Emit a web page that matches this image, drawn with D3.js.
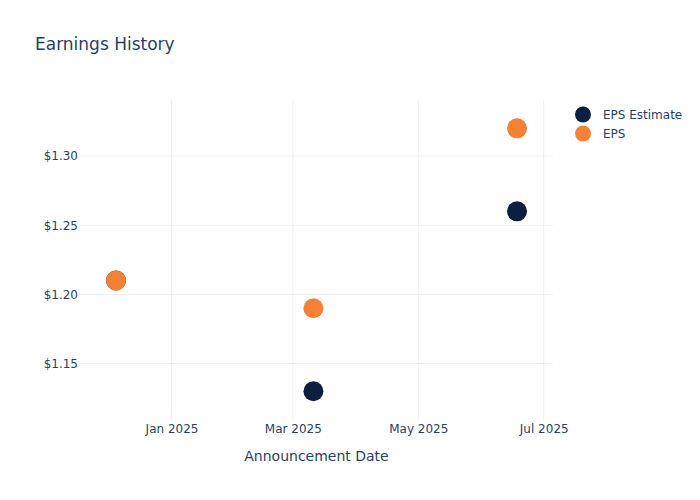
<!DOCTYPE html>
<html><head><meta charset="utf-8">
<script src="https://cdn.jsdelivr.net/npm/d3@7"></script>
<style>body{margin:0;background:#fff;} text{font-family:"DejaVu Sans",sans-serif;}</style>
</head><body>
<div id="chart"></div>
<script>
const dates = ["2024-12-05", "2025-03-11", "2025-06-18"];
const epsEstimate = [1.21, 1.13, 1.26];
const eps = [1.21, 1.19, 1.32];
const seriesNames = ["EPS Estimate", "EPS"];
const yTicks = [1.15, 1.20, 1.25, 1.30];
const xTicks = ["2025-01-01", "2025-03-01", "2025-05-01", "2025-07-01"];

const W = 700, H = 500;
const m = {l: 80, r: 147, t: 100, b: 80};
const parse = d3.utcParse("%Y-%m-%d");
const svg = d3.select("#chart").append("svg").attr("width", W).attr("height", H);

const x = d3.scaleUtc()
  .domain([new Date(Date.UTC(2024, 10, 17, 12)), new Date(Date.UTC(2025, 6, 5, 12))])
  .range([m.l, W - m.r]);
const y = d3.scaleLinear().domain([1.1092, 1.3405]).range([H - m.b, m.t]);

const grid = svg.append("g");
grid.selectAll(".gx").data(xTicks).join("line")
  .attr("x1", d => x(parse(d))).attr("x2", d => x(parse(d)))
  .attr("y1", m.t).attr("y2", H - m.b)
  .attr("stroke", "#ebf0f8").attr("stroke-width", 1);
grid.selectAll(".gy").data(yTicks).join("line")
  .attr("x1", m.l).attr("x2", W - m.r)
  .attr("y1", d => y(d)).attr("y2", d => y(d))
  .attr("stroke", "#ebf0f8").attr("stroke-width", 1);

const xAxis = d3.axisBottom(x).tickValues(xTicks.map(parse))
  .tickFormat(d3.utcFormat("%b %Y")).tickSize(0).tickPadding(4);
svg.append("g").attr("transform", `translate(0,${H - m.b})`).call(xAxis)
  .call(g => g.select(".domain").remove())
  .selectAll("text").attr("fill", "#2a3f5f").style("font-size", "12px")
  .style("font-family", '"DejaVu Sans",sans-serif');

const yAxis = d3.axisLeft(y).tickValues(yTicks)
  .tickFormat(d => "$" + d3.format(".2f")(d)).tickSize(0).tickPadding(2);
svg.append("g").attr("transform", `translate(${m.l},0)`).call(yAxis)
  .call(g => g.select(".domain").remove())
  .selectAll("text").attr("fill", "#2a3f5f").style("font-size", "12px")
  .style("font-family", '"DejaVu Sans",sans-serif');

svg.append("text").attr("x", 35).attr("y", 50).text("Earnings History")
  .attr("fill", "#2a3f5f").style("font-size", "17px");
svg.append("text").attr("x", (m.l + W - m.r) / 2).attr("y", 461).attr("text-anchor", "middle")
  .text("Announcement Date").attr("fill", "#2a3f5f").style("font-size", "14px");

const colors = ["#0c1f40", "#f58137"];
const series = [epsEstimate, eps];
series.forEach((vals, i) => {
  svg.append("g").selectAll("circle").data(vals).join("circle")
    .attr("cx", (d, j) => x(parse(dates[j])))
    .attr("cy", d => y(d))
    .attr("r", 10)
    .attr("fill", colors[i]);
});

const leg = svg.append("g");
seriesNames.forEach((n, i) => {
  leg.append("circle").attr("cx", 583).attr("cy", 114.5 + i * 19).attr("r", 8).attr("fill", colors[i]);
  leg.append("text").attr("x", 603).attr("y", 119 + i * 19).text(n)
    .attr("fill", "#2a3f5f").style("font-size", "12px");
});
</script>
</body></html>
